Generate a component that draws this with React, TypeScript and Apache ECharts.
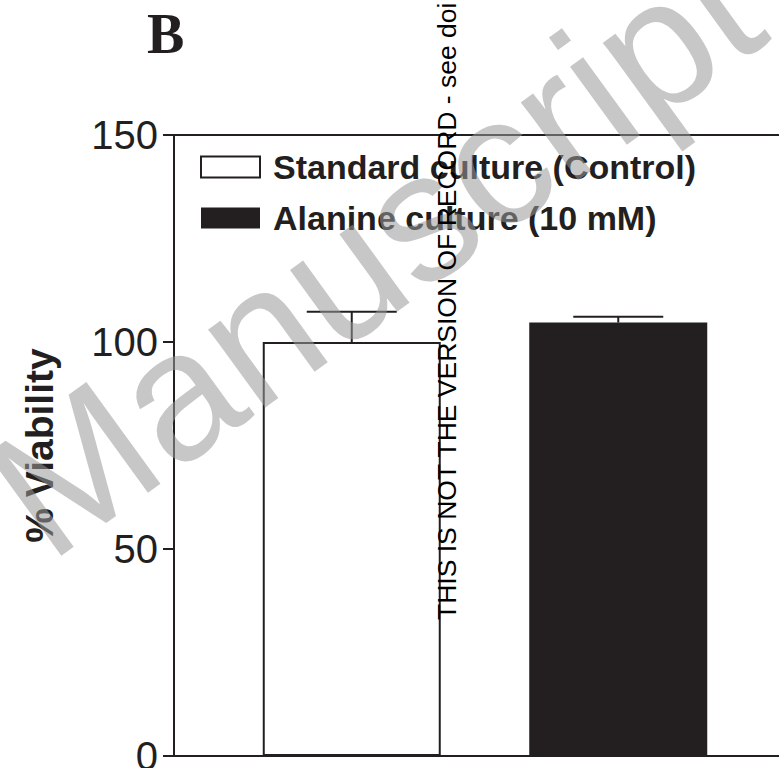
import React, { useEffect, useRef } from "react";
import * as echarts from "echarts";

const categories = ["Standard culture (Control)", "Alanine culture (10 mM)"];
const categoryPos = [1, 2];
const viability = [100, 104.7];
const errorTop = [107.3, 106.1];
const yMin = 0;
const yMax = 150;
const yInterval = 50;
const panelLabel = "B";
const yTitle = "% Viability";
const watermarkText = "Manuscript";
const sideNote = "THIS IS NOT THE VERSION OF RECORD - see doi";

const INK = "#231f20";
const SANS = "'Liberation Sans', Arial, Helvetica, sans-serif";

export default function App() {
  const ref = useRef<HTMLDivElement>(null);

  useEffect(() => {
    document.documentElement.style.overflow = "hidden";
    document.body.style.margin = "0";
    document.body.style.overflow = "hidden";
    if (!ref.current) return;
    const chart = echarts.init(ref.current, null, { renderer: "svg" });

    const option: any = {
      animation: false,
      backgroundColor: "#ffffff",
      grid: {
        left: 174,
        top: 135,
        width: 622,
        height: 621,
        containLabel: false,
        outerBoundsMode: "none",
        show: true,
        borderColor: INK,
        borderWidth: 2,
        backgroundColor: "transparent",
      },
      legend: {
        orient: "vertical",
        left: 195,
        top: 145,
        itemWidth: 59,
        itemHeight: 21,
        itemGap: 17,
        icon: "rect",
        selectedMode: false,
        textStyle: {
          fontSize: 34,
          fontWeight: "bold",
          color: INK,
          fontFamily: SANS,
          padding: [0, 0, 0, 8],
        },
        data: [
          {
            name: categories[0],
            itemStyle: { color: "#ffffff", borderColor: INK, borderWidth: 2 },
          },
          { name: categories[1], itemStyle: { color: INK, borderWidth: 0 } },
        ],
      },
      xAxis: {
        type: "value",
        min: 0.333,
        max: 2.667,
        axisLine: { show: true, lineStyle: { color: INK, width: 2 } },
        axisTick: { show: false },
        axisLabel: { show: false },
        splitLine: { show: false },
      },
      yAxis: {
        type: "value",
        min: yMin,
        max: yMax,
        interval: yInterval,
        name: yTitle,
        nameLocation: "middle",
        nameRotate: 90,
        nameGap: 115,
        nameTextStyle: {
          fontSize: 39,
          fontWeight: "bold",
          color: INK,
          fontFamily: SANS,
        },
        axisLine: { show: true, lineStyle: { color: INK, width: 2 } },
        axisTick: { show: true, length: 11, lineStyle: { color: INK, width: 2 } },
        axisLabel: {
          fontSize: 40,
          color: INK,
          fontFamily: SANS,
          margin: 16,
        },
        splitLine: { show: false },
      },
      series: [
        {
          type: "bar",
          name: categories[0],
          data: [[categoryPos[0], viability[0]]],
          barWidth: 178,
          barGap: "-100%",
          itemStyle: { color: "#ffffff", borderColor: INK, borderWidth: 2 },
          z: 2,
        },
        {
          type: "bar",
          name: categories[1],
          data: [[categoryPos[1], viability[1]]],
          barWidth: 178,
          barGap: "-100%",
          itemStyle: { color: INK },
          z: 2,
        },
        {
          type: "custom",
          name: "error",
          data: categoryPos.map((p, i) => [p, viability[i], errorTop[i]]),
          encode: { x: 0, y: [1, 2] },
          z: 3,
          renderItem: (params: any, api: any) => {
            const x = api.value(0);
            const base = api.coord([x, api.value(1)]);
            const top = api.coord([x, api.value(2)]);
            const style = { stroke: INK, lineWidth: 2 };
            return {
              type: "group",
              children: [
                {
                  type: "line",
                  shape: { x1: base[0], y1: base[1], x2: top[0], y2: top[1] },
                  style,
                },
                {
                  type: "line",
                  shape: { x1: top[0] - 45, y1: top[1], x2: top[0] + 45, y2: top[1] },
                  style,
                },
              ],
            };
          },
        },
      ],
      graphic: [
        {
          type: "text",
          left: 147,
          top: 6,
          z: 50,
          style: {
            text: panelLabel,
            fill: INK,
            font: "bold 56px 'Liberation Serif', 'Times New Roman', serif",
          },
        },
        {
          type: "text",
          x: 374,
          y: 250,
          rotation: (36 * Math.PI) / 180,
          z: 100,
          style: {
            text: watermarkText,
            fill: "#999999",
            opacity: 0.55,
            font: "183px 'Liberation Sans', Arial, sans-serif",
            textAlign: "center",
            textVerticalAlign: "middle",
          },
        },
        {
          type: "text",
          x: 447,
          y: 620,
          rotation: Math.PI / 2,
          z: 101,
          style: {
            text: sideNote,
            fill: "#000000",
            font: "26.5px 'Liberation Sans', Arial, sans-serif",
            textAlign: "left",
            textVerticalAlign: "middle",
          },
        },
      ],
    };

    chart.setOption(option);
    return () => chart.dispose();
  }, []);

  return (
    <div
      ref={ref}
      style={{ width: 779, height: 768, overflow: "hidden", position: "relative" }}
    />
  );
}
